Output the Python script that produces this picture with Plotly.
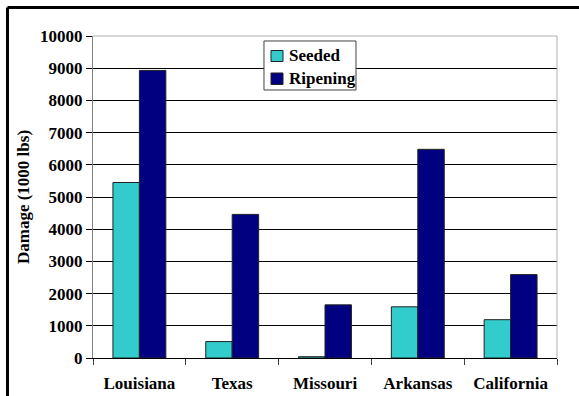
import plotly.graph_objects as go

states = ["Louisiana", "Texas", "Missouri", "Arkansas", "California"]
seeded = [5450, 510, 40, 1590, 1190]
ripening = [8930, 4460, 1650, 6480, 2590]
y_ticks = [0, 1000, 2000, 3000, 4000, 5000, 6000, 7000, 8000, 9000, 10000]
series_names = ["Seeded", "Ripening"]
series_colors = ["#33CCCC", "#000080"]

FONT = "'Liberation Serif', 'Times New Roman', serif"
SIZE = 17

fig = go.Figure()
for name, vals, col in zip(series_names, [seeded, ripening], series_colors):
    fig.add_trace(go.Bar(
        name=name, x=states, y=vals,
        marker=dict(color=col, line=dict(color="#222222", width=1)),
    ))

# boxed legend drawn in paper coordinates inside the plot area
legend_shapes = [
    dict(type="rect", xref="paper", yref="paper", x0=0.3685, x1=0.5668,
         y0=0.8323, y1=0.9845, fillcolor="white",
         line=dict(color="#404040", width=1), layer="above"),
]
legend_notes = []
rows = [(0.9208, 0.955, 0.9388), (0.8494, 0.8851, 0.868)]
for (y0, y1, yt), name, col in zip(rows, series_names, series_colors):
    legend_shapes.append(dict(
        type="rect", xref="paper", yref="paper", x0=0.3836, x1=0.4095,
        y0=y0, y1=y1, fillcolor=col, line=dict(color="#222222", width=1),
        layer="above"))
    legend_notes.append(dict(
        xref="paper", yref="paper", x=0.4181, y=yt, xanchor="left",
        yanchor="middle", text=f"<b>{name}</b>", showarrow=False,
        font=dict(family=FONT, size=SIZE, color="black")))

fig.update_layout(
    width=579, height=396,
    margin=dict(l=93, r=22, t=36, b=38),
    paper_bgcolor="white", plot_bgcolor="white",
    font=dict(family=FONT, size=SIZE, color="black"),
    barmode="group", bargap=0.43, bargroupgap=0,
    showlegend=False,
    xaxis=dict(
        tickmode="array", tickvals=states,
        ticktext=[f"<b>{s}</b>" for s in states],
        tickson="boundaries", ticks="outside", ticklen=6, tickcolor="#404040",
        ticklabelstandoff=10, automargin=False,
        showline=True, linecolor="black", linewidth=1,
        showgrid=False, zeroline=False,
    ),
    yaxis=dict(
        range=[0, 10000], tickmode="array", tickvals=y_ticks,
        ticktext=[f"<b>{v}</b>" for v in y_ticks],
        ticks="outside", ticklen=6, tickcolor="black", automargin=False,
        showline=True, linecolor="#808080", linewidth=1,
        showgrid=True, gridcolor="black", gridwidth=1, zeroline=False,
        title=dict(text="<b>Damage (1000 lbs)</b>", standoff=6,
                   font=dict(family=FONT, size=SIZE)),
    ),
    annotations=legend_notes,
    shapes=[
        # light frame on the top and right of the plotting area
        dict(type="line", xref="paper", yref="paper", x0=0, x1=1, y0=1, y1=1,
             line=dict(color="#b0b0b0", width=1), layer="above"),
        dict(type="line", xref="paper", yref="paper", x0=1, x1=1, y0=0, y1=1,
             line=dict(color="#b0b0b0", width=1), layer="above"),
        # outer chart border (left and top edges)
        dict(type="line", xref="paper", yref="paper", x0=-0.1843, x1=-0.1843,
             y0=-0.2, y1=1.0885, line=dict(color="black", width=3)),
        dict(type="line", xref="paper", yref="paper", x0=-0.1843, x1=1.1,
             y0=1.0885, y1=1.0885, line=dict(color="black", width=3)),
    ] + legend_shapes,
)

fig.write_html("out.html")
